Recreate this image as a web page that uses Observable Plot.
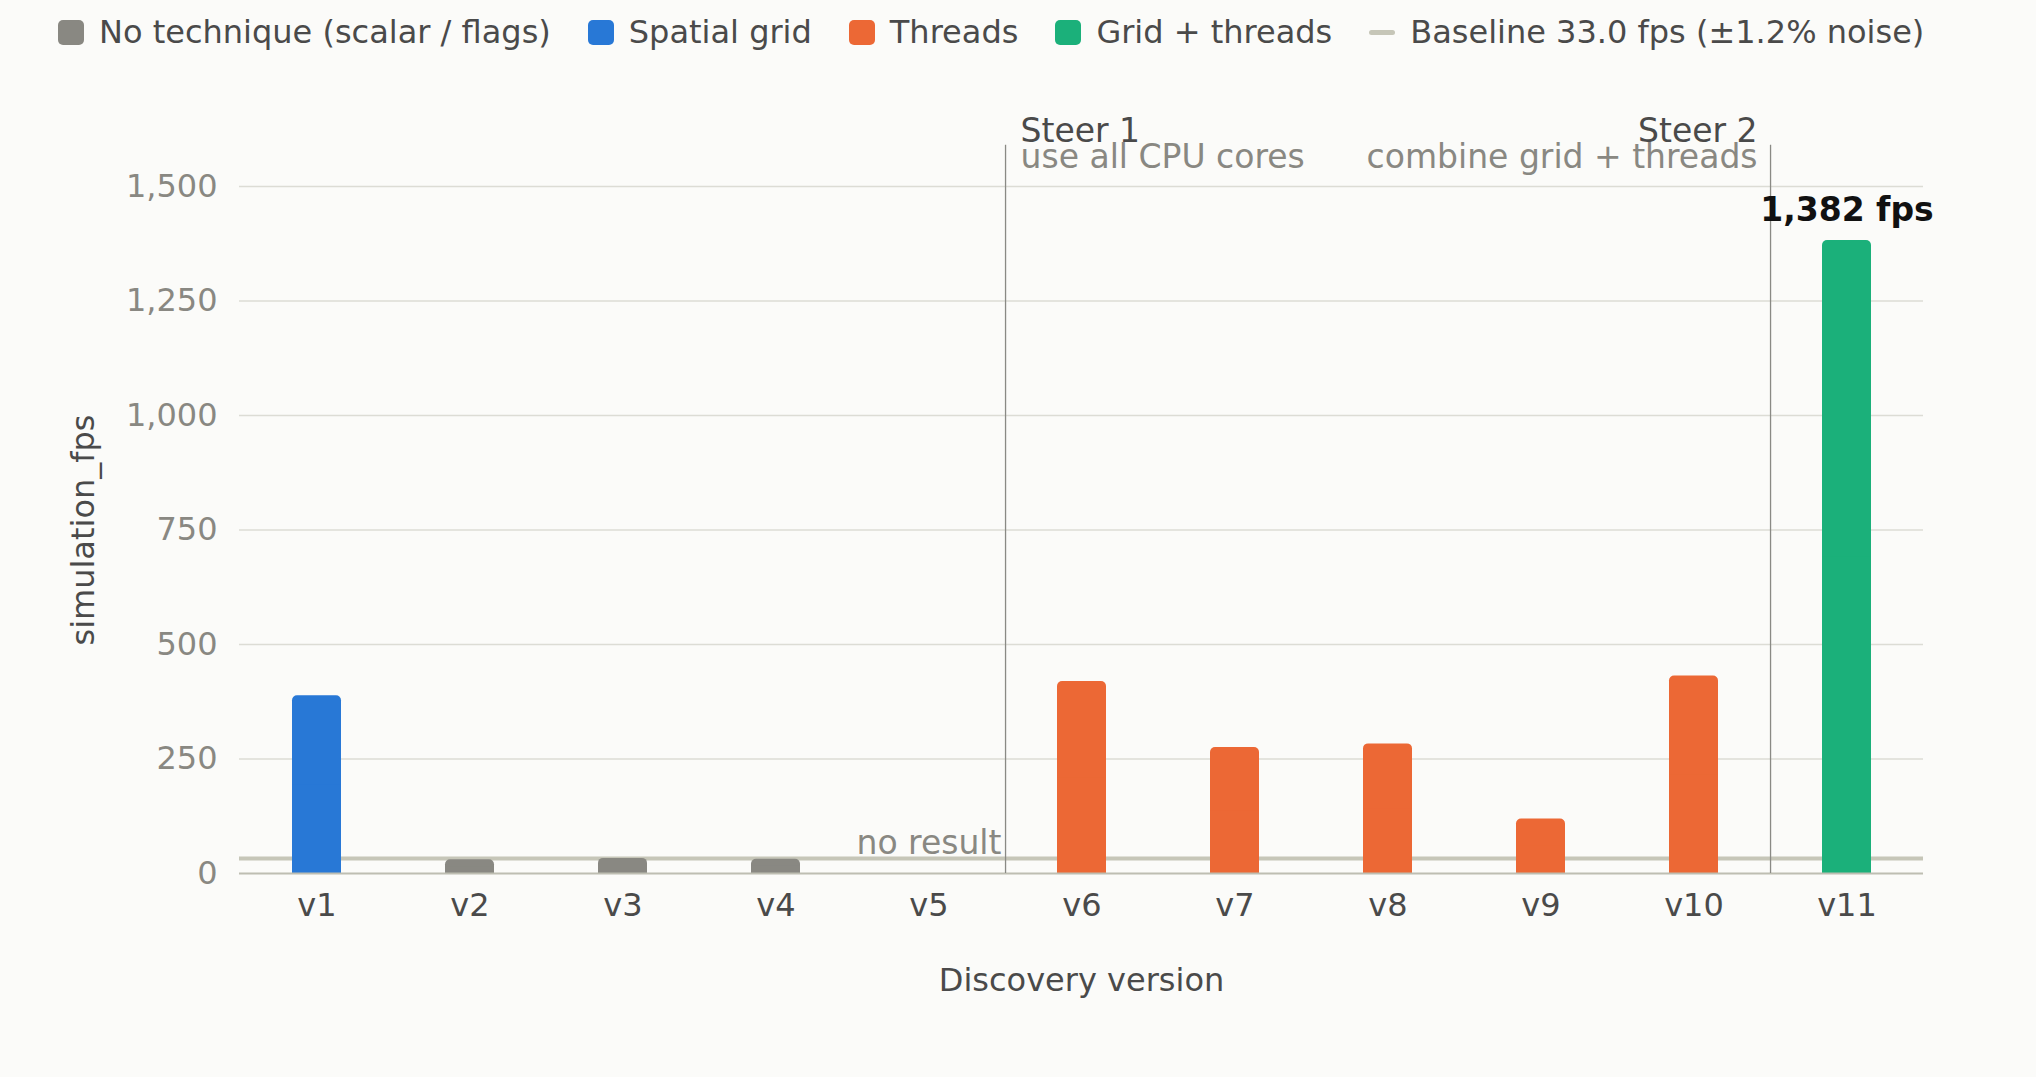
<!DOCTYPE html>
<html><head><meta charset="utf-8">
<script src="https://cdn.jsdelivr.net/npm/d3@7"></script>
<script src="https://cdn.jsdelivr.net/npm/@observablehq/plot@0.6"></script>
<style>
html,body{margin:0;padding:0;background:#fbfbf9;}
body{width:2036px;height:1077px;overflow:hidden;font-family:"DejaVu Sans",sans-serif;}
.legend{display:flex;align-items:center;height:62px;padding-left:58px;padding-top:2px;gap:37px;font-size:32px;color:#4a4a4a;box-sizing:border-box;}
.item{display:flex;align-items:center;gap:15px;white-space:nowrap;}
.sw{display:inline-block;width:26px;height:25px;border-radius:5px;}
.sw.line{height:5px;border-radius:3px;}
#chart svg{display:block;}
</style></head><body>
<div class="legend" id="legend"></div>
<div id="chart"></div>
<script>
// ---- data ----
const versions = ["v1","v2","v3","v4","v5","v6","v7","v8","v9","v10","v11"];
const fps = [388, 30, 33, 31, null, 419, 275, 283, 119, 431, 1382];
const technique = ["Spatial grid","No technique (scalar / flags)","No technique (scalar / flags)","No technique (scalar / flags)",null,"Threads","Threads","Threads","Threads","Threads","Grid + threads"];
const techniques = ["No technique (scalar / flags)","Spatial grid","Threads","Grid + threads"];
const techniqueColors = ["#898882","#2878d6","#ec6835","#1bb07a"];
const baselineFps = 33.0;
const baselineNoise = 0.012;
const baselineLabel = "Baseline 33.0 fps (±1.2% noise)";
const yTicks = [0,250,500,750,1000,1250,1500];
const steerAfter = ["v5","v10"];
const steerLabels = ["Steer 1","Steer 2"];
const steerNotes = ["use all CPU cores","combine grid + threads"];
const steerTop = 1590;
const noResultLabel = "no result";

// ---- style ----
const gray = "#898882", dark = "#4a4a4a";
const W = 2036, H = 1015, mL = 239, mR = 113, mT = 124, mB = 204;
const step = (W - mL - mR) / versions.length;
const annSize = 33;

// legend
const legendEl = document.getElementById("legend");
techniques.forEach((t,i) => {
  const it = document.createElement("div"); it.className = "item";
  it.innerHTML = `<span class="sw" style="background:${techniqueColors[i]}"></span><span>${t}</span>`;
  legendEl.appendChild(it);
});
{
  const it = document.createElement("div"); it.className = "item";
  it.innerHTML = `<span class="sw line" style="background:#c6c6b8"></span><span>${baselineLabel}</span>`;
  legendEl.appendChild(it);
}

const rows = versions.map((v,i) => ({version: v, fps: fps[i], technique: technique[i]}));
const bars = rows.filter(d => d.fps != null);
const missing = rows.filter(d => d.fps == null);
const best = [d3.greatest(bars, d => d.fps)];
const steers = steerAfter.map((v,i) => ({after: v, label: steerLabels[i], note: steerNotes[i]}));
const fmt = d3.format(",");

const chart = Plot.plot({
  width: W, height: H, marginLeft: mL, marginRight: mR, marginTop: mT, marginBottom: mB,
  style: {fontSize: "32px", fontFamily: "DejaVu Sans, sans-serif", background: "transparent", overflow: "visible"},
  x: {domain: versions, paddingInner: 0.68, paddingOuter: 0.34},
  y: {domain: [0, 1500]},
  color: {domain: techniques, range: techniqueColors},
  marks: [
    Plot.gridY(yTicks.filter(t => t > 0), {stroke: "#dcdcd5", strokeOpacity: 1, strokeWidth: 1.5}),
    Plot.ruleY([baselineFps], {stroke: "#c6c6b8", strokeWidth: 4}),
    Plot.barY(bars, {x: "version", y: "fps", fill: "technique", rx: 5}),
    Plot.barY(bars, {x: "version", y1: 0, y2: d => d.fps / 2, fill: "technique"}),
    Plot.ruleY([0], {stroke: "#bebeb2", strokeWidth: 2}),
    Plot.ruleX(steers, {x: "after", y1: 0, y2: steerTop, dx: step / 2, stroke: "#8a8a85", strokeWidth: 1.3}),
    Plot.text(steers.slice(0,1), {x: "after", y: steerTop, text: "label", textAnchor: "start", lineAnchor: "bottom", dx: step/2 + 15, dy: -3, fill: dark, fontSize: annSize}),
    Plot.text(steers.slice(0,1), {x: "after", y: steerTop, text: "note", textAnchor: "start", lineAnchor: "bottom", dx: step/2 + 15, dy: 23, fill: gray, fontSize: annSize}),
    Plot.text(steers.slice(1), {x: "after", y: steerTop, text: "label", textAnchor: "end", lineAnchor: "bottom", dx: step/2 - 13, dy: -3, fill: dark, fontSize: annSize}),
    Plot.text(steers.slice(1), {x: "after", y: steerTop, text: "note", textAnchor: "end", lineAnchor: "bottom", dx: step/2 - 13, dy: 23, fill: gray, fontSize: annSize}),
    Plot.text(missing, {x: "version", y: baselineFps, text: () => noResultLabel, lineAnchor: "bottom", dy: -4, fill: gray, fontSize: annSize}),
    Plot.text(best, {x: "version", y: "fps", text: d => `${fmt(d.fps)} fps`, lineAnchor: "bottom", dy: -20, fontWeight: "bold", fill: "#111", fontSize: annSize}),
    Plot.axisY(yTicks, {tickSize: 0, tickPadding: 22, tickFormat: fmt, fill: gray, label: null}),
    Plot.axisY({ticks: [], label: "simulation_fps", labelArrow: "none", labelAnchor: "center", labelOffset: 168, fill: dark, tickSize: 0}),
    Plot.axisX({tickSize: 0, tickPadding: 20, fill: dark, label: "Discovery version", labelArrow: "none", labelAnchor: "center", labelOffset: 117})
  ]
});
document.getElementById("chart").appendChild(chart);
</script>
</body></html>
